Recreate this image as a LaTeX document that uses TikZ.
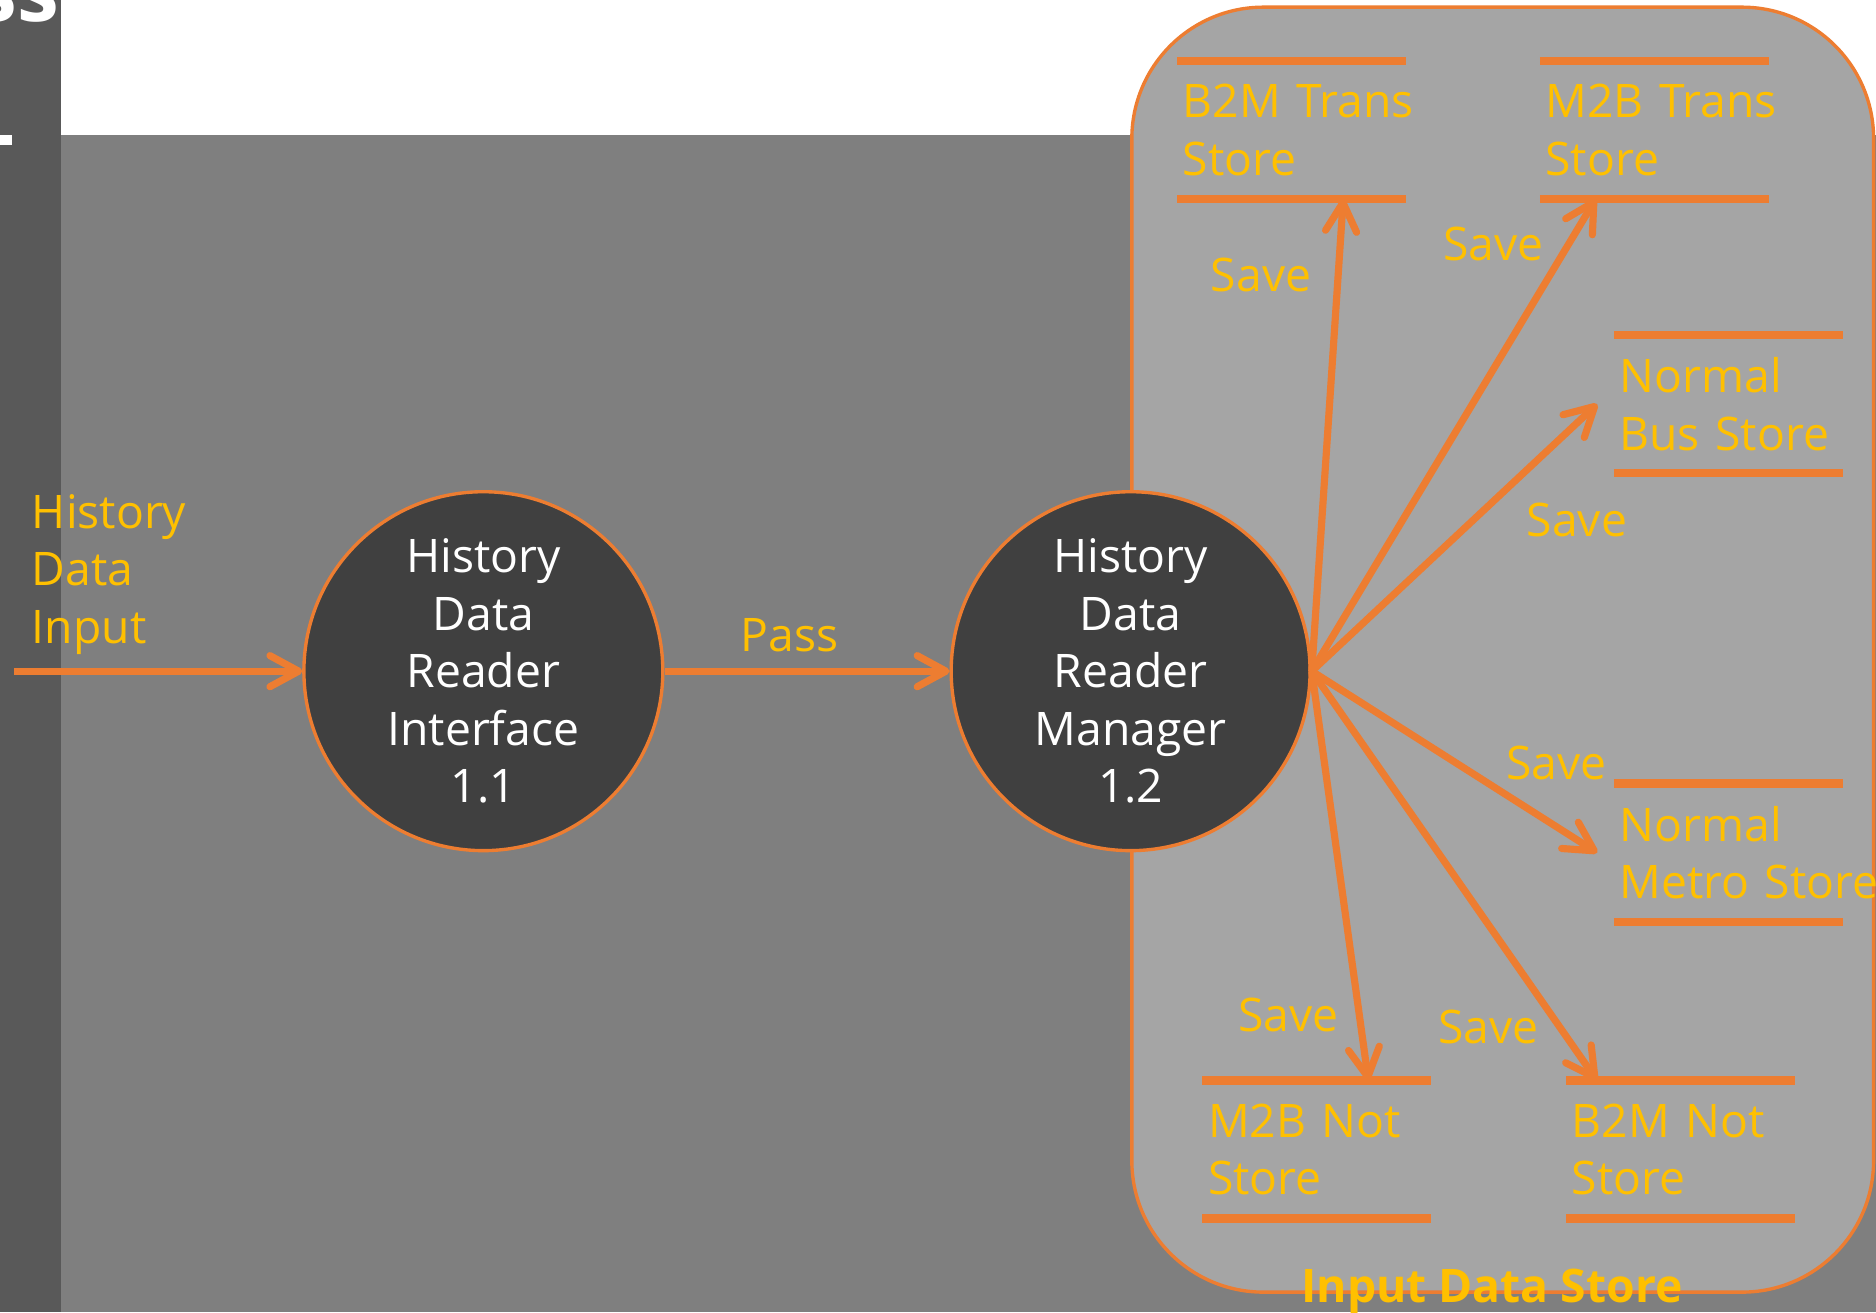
\documentclass[tikz,border=0pt]{standalone}
\usepackage{fontspec}
\setmainfont{Open Sans}
\usetikzlibrary{arrows.meta}
\definecolor{dfdorange}{HTML}{ED7D31}
\definecolor{dfdyellow}{HTML}{FFC000}
\definecolor{bggray}{HTML}{7F7F7F}
\definecolor{stripgray}{HTML}{595959}
\definecolor{storegray}{HTML}{A5A5A5}
\definecolor{procgray}{HTML}{404040}
\newcommand{\dfdfont}{\fontsize{11}{13.66}\selectfont}
\tikzset{
  process/.style={circle, draw=dfdorange, line width=0.8pt, fill=procgray,
    minimum size=3cm, inner sep=0pt, align=center, text=white},
  store/.style={anchor=north west, text width=1.82cm, inner xsep=0.4mm,
    inner ysep=0pt, minimum height=1.14cm, align=left, text=dfdyellow},
  storeline/.style={dfdorange, line width=2pt},
  storearea/.style={draw=dfdorange, line width=0.8pt, fill=storegray, rounded corners=1.1cm},
  flow/.style={dfdorange, line width=1.7pt, -{Straight Barb[length=2.4mm,width=2.6mm,round]}},
  flowlabel/.style={text=dfdyellow, inner sep=0pt}
}
\newcommand{\storelines}[1]{\draw[storeline] (#1.north west) -- (#1.north east)
  (#1.south west) -- (#1.south east)}

\begin{document}
\begin{tikzpicture}[x=0.1mm, y=-0.1mm, every node/.style={font=\dfdfont}]
\useasboundingbox (0,0) rectangle (1568,1097);
% background:
\fill[bggray] (0,0) rectangle (1568,1097);
\fill[white] (51,0) rectangle (1568,113);
\fill[stripgray] (0,0) rectangle (51,1097);
\fill[white] (0,113) rectangle (10,121);
\begin{scope}
\clip (0,0) rectangle (51,113);
\node[text=white, inner sep=0pt, anchor=base east, font=\fontsize{20}{24}\selectfont\bfseries] (title) at (50,18) {ss};
\end{scope}
% data store area:
\draw[storearea] (946,6) rectangle (1566,1080);
% stores:
\node[store] (b2mtrans) at (984,51) {B2M~Trans\\Store};
\node[store] (m2btrans) at (1287,51) {M2B~Trans\\Store};
\node[store] (normbus) at (1349,280) {Normal\\Bus~Store};
\node[store] (normmetro) at (1349,655) {Normal\\Metro~Store};
\node[store] (m2bnot) at (1005,903) {M2B~Not\\Store};
\node[store] (b2mnot) at (1309,903) {B2M~Not\\Store};
\storelines{b2mtrans};
\storelines{m2btrans};
\storelines{normbus};
\storelines{normmetro};
\storelines{m2bnot};
\storelines{b2mnot};
% processes:
\node[process] (reader) at (404,561) {History\\Data\\Reader\\Interface\\1.1};
\node[process] (manager) at (945,561) {History\\Data\\Reader\\Manager\\1.2};
% flows:
\coordinate (histin) at (12,561);
\draw[flow] (histin) -- (reader);
\draw[flow] (reader) -- (manager);
\draw[flow] (manager.east) -- ([xshift=0.43cm]b2mtrans.south);
\draw[flow] (manager.east) -- ([xshift=-0.49cm]m2btrans.south);
\draw[flow] (manager.east) -- ([xshift=-0.14cm]normbus.west);
\draw[flow] (manager.east) -- ([xshift=-0.14cm]normmetro.west);
\draw[flow] (manager.east) -- ([xshift=0.43cm]m2bnot.north);
\draw[flow] (manager.east) -- ([xshift=-0.7cm]b2mnot.north);
% labels:
\node[flowlabel, anchor=west, align=left] (histlabel) at (26,480) {History\\Data\\Input};
\node[flowlabel] (passlabel) at (660,531) {Pass};
\node[flowlabel] (save1) at (1054,230) {Save};
\node[flowlabel] (save2) at (1248,204) {Save};
\node[flowlabel] (save3) at (1318,435) {Save};
\node[flowlabel] (save4) at (1301,638) {Save};
\node[flowlabel] (save5) at (1077,848) {Save};
\node[flowlabel] (save6) at (1244,858) {Save};
\node[flowlabel, font=\dfdfont\bfseries] (storetitle) at (1247,1079) {Input Data Store};
\end{tikzpicture}
\end{document}
